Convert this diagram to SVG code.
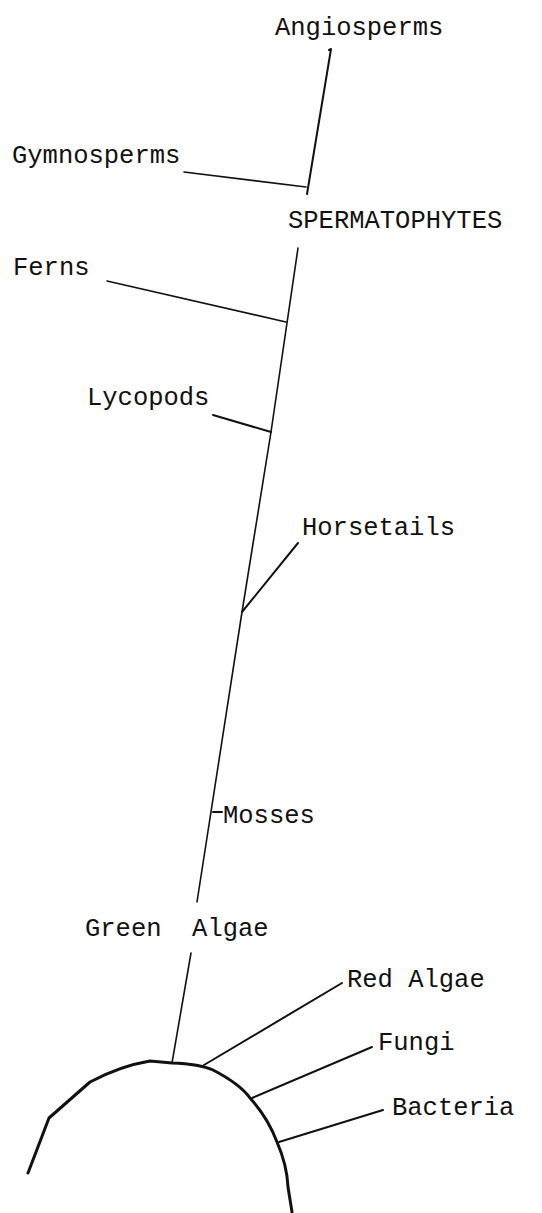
<svg xmlns="http://www.w3.org/2000/svg" width="542" height="1213" viewBox="0 0 542 1213">
  <style>
    .lbl { font-family: "Liberation Mono", "DejaVu Sans Mono", monospace; font-size: 25.5px; fill: #111; }
    .ln { stroke: #111; stroke-width: 2; fill: none; stroke-linecap: round; stroke-linejoin: round; }
    .thin { stroke-width: 1.6; }
    .arc { stroke-width: 3; }
  </style>
  <rect width="542" height="1213" fill="#fff"/>

  <!-- connectors: trunk, branches and base arc -->
  <g id="connectors">
    <path class="ln" d="M329 50 L331 49 L307 194"/>
    <path class="ln thin" d="M184 172 L306 187"/>
    <path class="ln thin" d="M298 248 L271 432 L242 612 L197 902"/>
    <path class="ln thin" d="M107 281 L286 322"/>
    <path class="ln" d="M213 415 L271 432"/>
    <path class="ln" d="M298 543 L242 612"/>
    <path class="ln" d="M213 812 L222 812"/>
    <path class="ln thin" d="M191 953 L172 1063"/>
    <path class="ln arc" d="M28 1173 L49 1118 L90 1082 Q120 1066 150 1061 L172 1063 Q200 1064 213 1070 Q240 1084 250 1098 Q268 1118 277 1142 Q287 1165 288 1187 L292 1212"/>
    <path class="ln" d="M204 1065 L342 983"/>
    <path class="ln" d="M252 1098 L372 1047"/>
    <path class="ln" d="M279 1142 L383 1110"/>
  </g>

  <g id="angiosperms"><text class="lbl" x="275" y="35">Angiosperms</text></g>
  <g id="gymnosperms"><text class="lbl" x="12" y="163">Gymnosperms</text></g>
  <g id="spermatophytes"><text class="lbl" x="288" y="228">SPERMATOPHYTES</text></g>
  <g id="ferns"><text class="lbl" x="13" y="275">Ferns</text></g>
  <g id="lycopods"><text class="lbl" x="87" y="405">Lycopods</text></g>
  <g id="horsetails"><text class="lbl" x="302" y="535">Horsetails</text></g>
  <g id="mosses"><text class="lbl" x="223" y="823">Mosses</text></g>
  <g id="green-algae"><text class="lbl" x="85" y="936" xml:space="preserve">Green  Algae</text></g>
  <g id="red-algae"><text class="lbl" x="347" y="987">Red Algae</text></g>
  <g id="fungi"><text class="lbl" x="378" y="1050">Fungi</text></g>
  <g id="bacteria"><text class="lbl" x="392" y="1115">Bacteria</text></g>
</svg>
